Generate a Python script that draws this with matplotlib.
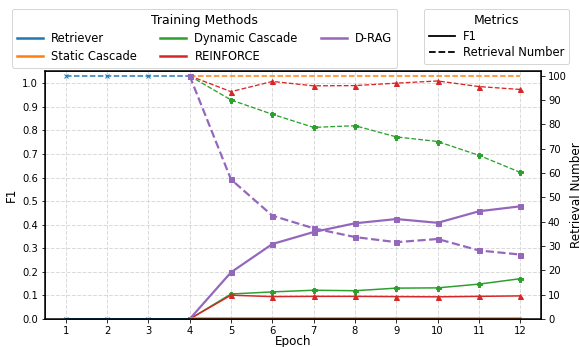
import numpy as np
import matplotlib
matplotlib.use("Agg")
import matplotlib.pyplot as plt
from matplotlib.lines import Line2D

# epochs
ep_retriever = [1, 2, 3, 4]
ep_rest = [4, 5, 6, 7, 8, 9, 10, 11, 12]

# F1 (left axis)
f1_retriever = [0.0, 0.0, 0.0, 0.0]
f1_static = [0.003, 0.003, 0.003, 0.003, 0.003, 0.003, 0.003, 0.003, 0.003]
f1_dynamic = [0.0, 0.106, 0.115, 0.122, 0.120, 0.131, 0.132, 0.148, 0.171]
f1_reinforce = [0.0, 0.101, 0.095, 0.096, 0.096, 0.095, 0.094, 0.096, 0.098]
f1_drag = [0.0, 0.198, 0.318, 0.369, 0.406, 0.424, 0.408, 0.457, 0.478]

# retrieval number (right axis)
rn_retriever = [100, 100, 100, 100]
rn_static = [100, 100, 100, 100, 100, 100, 100, 100, 100]
rn_dynamic = [100, 90.1, 84.2, 78.8, 79.5, 74.9, 73.0, 67.3, 60.3]
rn_reinforce = [100, 93.5, 97.7, 95.9, 96.0, 97.0, 97.9, 95.6, 94.4]
rn_drag = [100, 57.4, 42.5, 37.3, 33.7, 31.6, 32.9, 28.2, 26.5]

methods = ["Retriever", "Static Cascade", "Dynamic Cascade", "REINFORCE", "D-RAG"]
colors = ["#1f77b4", "#ff7f0e", "#2ca02c", "#d62728", "#9467bd"]

W, H = 580, 347
fig = plt.figure(figsize=(W/72, H/72), dpi=72)
ax1 = fig.add_axes([45/W, 1-319/H, (541-45)/W, (319-71)/H])
ax2 = ax1.twinx()

# F1 solid
ax1.plot(ep_retriever, f1_retriever, color=colors[0], marker="x", ms=4, lw=2, zorder=3)
ax1.plot(ep_rest, f1_static, color=colors[1], lw=2.5, zorder=3)
ax1.plot(ep_rest, f1_dynamic, color=colors[2], marker="P", ms=5, lw=1.5)
ax1.plot(ep_rest, f1_reinforce, color=colors[3], marker="^", ms=5, lw=1.5)
ax1.plot(ep_rest, f1_drag, color=colors[4], marker="s", ms=5, lw=2.2)

# retrieval number dashed
ax2.plot(ep_retriever, rn_retriever, color=colors[0], marker="x", ms=4, lw=1.5, ls="--")
ax2.plot(ep_rest, rn_static, color=colors[1], lw=1.5, ls="--")
ax2.plot(ep_rest, rn_dynamic, color=colors[2], marker="P", ms=5, lw=1.3, ls="--")
ax2.plot(ep_rest, rn_reinforce, color=colors[3], marker="^", ms=5, lw=1.3, ls="--")
ax2.plot(ep_rest, rn_drag, color=colors[4], marker="s", ms=5, lw=2.2, ls="--")

ax1.set_xlim(0.5, 12.5)
ax1.set_ylim(0, 1.052)
ax2.set_ylim(0, 102)
ax1.set_xticks(range(1, 13))
ax1.set_yticks(np.arange(0, 1.01, 0.1))
ax2.set_yticks(range(0, 101, 10))
ax1.tick_params(labelsize=10)
ax2.tick_params(labelsize=10)
for sp in ax2.spines.values():
    sp.set_linewidth(1.5)
ax1.grid(True, ls="--", color="#cccccc", alpha=0.7, lw=1)
ax1.set_xlabel("Epoch", fontsize=12, labelpad=-1)
ax1.set_ylabel("F1", fontsize=12)
ax2.set_ylabel("Retrieval Number", fontsize=12, labelpad=3)

handles = [Line2D([0], [0], color=c, lw=2.5) for c in colors]
leg1 = fig.legend(handles, methods, title="Training Methods", ncol=3,
                  loc="upper left", bbox_to_anchor=(12/W, 1-9/H),
                  fontsize=11.5, title_fontsize=12.5, frameon=True,
                  handlelength=2.3, columnspacing=2.0, handletextpad=0.7,
                  borderaxespad=0, labelspacing=0.45, borderpad=0.4)
mh = [Line2D([0], [0], color="black", lw=1.8, ls="-"),
      Line2D([0], [0], color="black", lw=1.8, ls="--")]
leg2 = fig.legend(mh, ["F1", "Retrieval Number"], title="Metrics",
                  loc="upper left", bbox_to_anchor=(424/W, 1-9/H),
                  fontsize=11.5, title_fontsize=12.5, frameon=True,
                  handlelength=2.3, handletextpad=0.7,
                  borderaxespad=0, labelspacing=0.3, borderpad=0.4)

fig.savefig("out.png", dpi=72)
